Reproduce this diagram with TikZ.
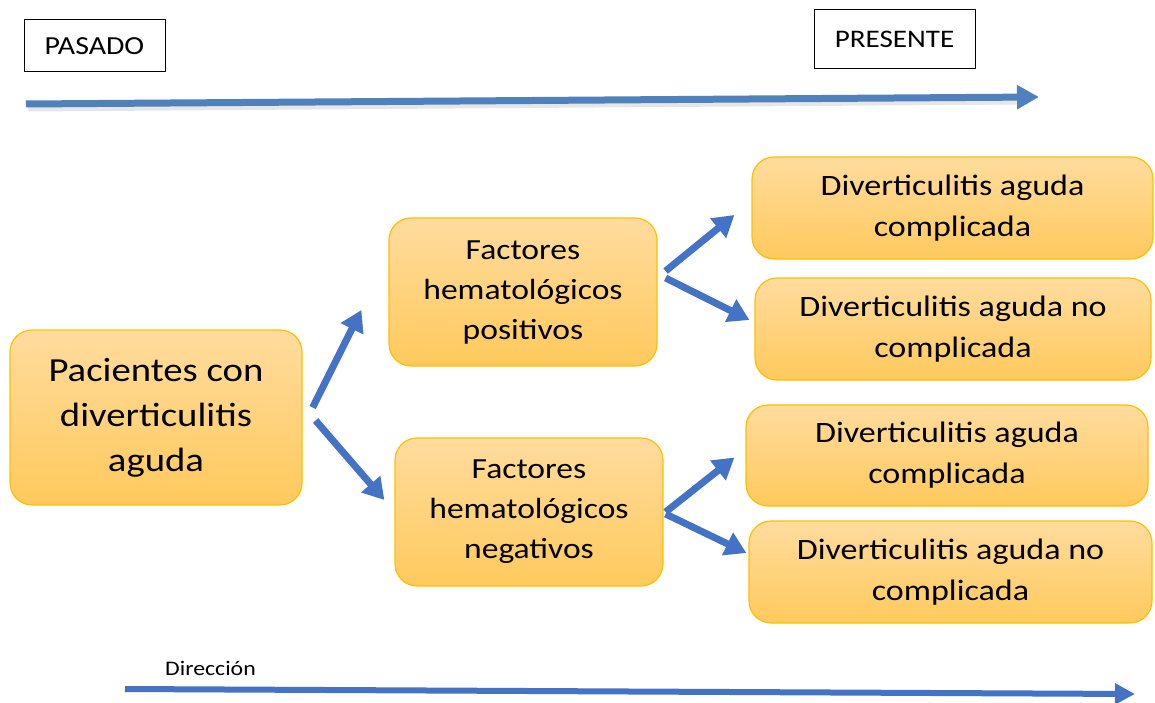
\documentclass[tikz,border=0pt]{standalone}
\usepackage{fontspec}
\setmainfont{Carlito}[FakeStretch=1.15]
\usetikzlibrary{arrows.meta}
\definecolor{azul}{HTML}{4472C4}
\definecolor{azulclaro}{HTML}{4F81BD}
\definecolor{borde}{HTML}{FFC000}
\definecolor{claro}{HTML}{FFDC9E}
\definecolor{oscuro}{HTML}{FFC95C}
\tikzset{
	caja/.style={rectangle, rounded corners=22pt, draw=borde, line width=1.2pt, top color=claro, bottom color=oscuro, align=center, inner sep=0pt},
	etiqueta/.style={rectangle, draw=black, line width=1pt, inner sep=0pt},
	flecha/.style={color=azul, line width=7pt, -{Triangle[length=21pt,width=24pt]}}
}
\begin{document}
\begin{tikzpicture}[x=1pt, y=-1pt]
	\useasboundingbox (0,0) rectangle (1155,703);
	% linea de tiempo
	\node [etiqueta, minimum width=141pt, minimum height=52pt, font=\fontsize{26}{30}\selectfont] (pasado) at (94.5,46) {PASADO};
	\node [etiqueta, minimum width=161pt, minimum height=59pt, font=\fontsize{25.3}{30}\selectfont] (presente) at (894.5,39.5) {PRESENTE};
	\coordinate (ini) at (26,104);
	\coordinate (fin) at (1039,97);
	\draw [color=gray, opacity=0.2, line width=7pt] ([shift={(2,4)}]ini) -- ([shift={(-20,4)}]fin);
	\draw [color=azulclaro, line width=7pt, -{Triangle[length=22pt,width=23pt]}] (ini) -- (fin);
	% cajas
	\node [caja, minimum width=292pt, minimum height=175pt, font=\fontsize{33.7}{45}\selectfont] (pac) at (156,417.5) {Pacientes con\\diverticulitis\\aguda};
	\node [caja, minimum width=268pt, minimum height=148pt, font=\fontsize{29.2}{40}\selectfont] (fpos) at (523,292) {Factores\\hematológicos\\positivos};
	\node [caja, minimum width=268pt, minimum height=148pt, font=\fontsize{29.2}{40}\selectfont] (fneg) at (529,512) {Factores\\hematológicos\\negativos};
	\node [caja, minimum width=401pt, minimum height=102pt, font=\fontsize{29.6}{41}\selectfont] (poscom) at (952.5,208) {Diverticulitis aguda\\complicada};
	\node [caja, minimum width=396pt, minimum height=102pt, font=\fontsize{29.6}{41}\selectfont] (posnocom) at (953,329) {Diverticulitis aguda no\\complicada};
	\node [caja, minimum width=402pt, minimum height=101pt, font=\fontsize{29.6}{41}\selectfont] (negcom) at (947,455.5) {Diverticulitis aguda\\complicada};
	\node [caja, minimum width=403pt, minimum height=102pt, font=\fontsize{29.6}{41}\selectfont] (negnocom) at (950.5,572) {Diverticulitis aguda no\\complicada};
	% flechas
	\draw [flecha] ([shift={(10,-10)}]pac.east) -- ([shift={(-27,18)}]fpos.west);
	\draw [flecha] ([shift={(13,3)}]pac.east) -- ([shift={(-10,-12)}]fneg.west);
	\draw [flecha] ([shift={(8,-21)}]fpos.east) -- ([shift={(-17,7)}]poscom.west);
	\draw [flecha] ([shift={(8,-14)}]fpos.east) -- ([shift={(-5,-9)}]posnocom.west);
	\draw [flecha] ([shift={(2,0)}]fneg.east) -- ([shift={(-11,2)}]negcom.west);
	\draw [flecha] ([shift={(2,2)}]fneg.east) -- ([shift={(-2,-19)}]negnocom.west);
	% direccion
	\node [anchor=west, inner sep=0pt, font=\fontsize{20.7}{22}\selectfont] (dir) at (165,668) {Dirección};
	\coordinate (dini) at (125,689);
	\coordinate (dfin) at (1135,694);
	\draw [color=azul, line width=6pt, -{Triangle[length=20pt,width=20pt]}] (dini) -- (dfin);
\end{tikzpicture}
\end{document}
